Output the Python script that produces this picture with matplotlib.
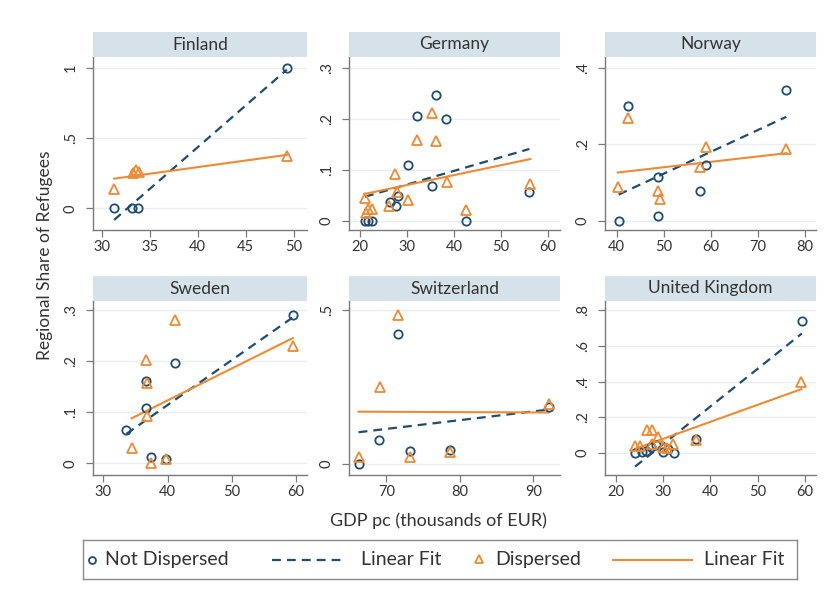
import matplotlib
matplotlib.use("Agg")
import matplotlib.pyplot as plt
import numpy as np

plt.rcParams['font.family'] = ['Lato', 'DejaVu Sans']

# --- data (GDP pc in thousands of EUR, share of refugees) ---
finland_nd_x = [31.3, 33.2, 33.8, 49.3]
finland_nd_y = [0.0, 0.0, 0.0, 1.0]
finland_d_x = [31.3, 33.3, 33.6, 33.9, 49.3]
finland_d_y = [0.14, 0.25, 0.27, 0.26, 0.37]

germany_nd_x = [21.1, 21.8, 22.5, 26.4, 27.6, 28.0, 30.3, 32.2, 35.4, 36.2, 38.4, 42.5, 56.0]
germany_nd_y = [0.0, 0.0, 0.0, 0.037, 0.029, 0.049, 0.109, 0.205, 0.068, 0.246, 0.200, 0.0, 0.057]
germany_d_x = [21.0, 21.4, 21.8, 22.5, 26.2, 27.4, 27.9, 30.3, 32.2, 35.4, 36.2, 38.6, 42.5, 56.2]
germany_d_y = [0.044, 0.016, 0.024, 0.024, 0.030, 0.091, 0.057, 0.040, 0.158, 0.211, 0.156, 0.076, 0.021, 0.072]

norway_nd_x = [40.4, 42.3, 48.8, 48.7, 57.6, 59.0, 76.0]
norway_nd_y = [0.0, 0.301, 0.115, 0.012, 0.078, 0.147, 0.343]
norway_d_x = [40.2, 42.3, 48.7, 49.1, 57.6, 59.0, 76.0]
norway_d_y = [0.089, 0.268, 0.078, 0.058, 0.141, 0.194, 0.187]

sweden_nd_x = [33.6, 36.7, 36.7, 37.5, 39.8, 41.1, 59.5]
sweden_nd_y = [0.065, 0.108, 0.162, 0.013, 0.008, 0.196, 0.290]
sweden_d_x = [34.4, 36.6, 36.8, 36.8, 37.5, 39.8, 41.1, 59.5]
sweden_d_y = [0.029, 0.203, 0.158, 0.092, 0.001, 0.008, 0.280, 0.230]

swiss_nd_x = [66.2, 69.0, 71.6, 73.2, 78.7, 92.1]
swiss_nd_y = [0.0, 0.078, 0.422, 0.043, 0.045, 0.184]
swiss_d_x = [66.2, 69.1, 71.6, 73.2, 78.7, 92.1]
swiss_d_y = [0.024, 0.249, 0.484, 0.024, 0.038, 0.195]

uk_nd_x = [24.1, 25.5, 26.5, 27.5, 28.5, 30.0, 31.0, 32.3, 37.0, 59.3]
uk_nd_y = [0.0, 0.005, 0.010, 0.030, 0.040, 0.005, 0.020, 0.0, 0.079, 0.740]
uk_d_x = [24.1, 25.1, 26.7, 27.6, 27.6, 29.0, 30.1, 30.9, 32.2, 37.0, 59.2]
uk_d_y = [0.038, 0.038, 0.126, 0.126, 0.047, 0.085, 0.032, 0.028, 0.050, 0.070, 0.400]

countries = ['Finland', 'Germany', 'Norway', 'Sweden', 'Switzerland', 'United Kingdom']
x_ticks = [[30, 35, 40, 45, 50], [20, 30, 40, 50, 60], [40, 50, 60, 70, 80],
           [30, 40, 50, 60], [70, 80, 90], [20, 30, 40, 50, 60]]
y_ticks = [[0, 0.5, 1], [0, 0.1, 0.2, 0.3], [0, 0.2, 0.4],
           [0, 0.1, 0.2, 0.3], [0, 0.5], [0, 0.2, 0.4, 0.6, 0.8]]

NAVY = '#1f4d72'
ORANGE = '#ef8a34'
STRIP = '#d6e2ea'
AXCOL = '#7a7a7a'
TXT = '#333333'

panels = [
    (finland_nd_x, finland_nd_y, finland_d_x, finland_d_y, (29.1, 51.4), (-0.155, 1.078)),
    (germany_nd_x, germany_nd_y, germany_d_x, germany_d_y, (17.7, 62.5), (-0.018, 0.321)),
    (norway_nd_x, norway_nd_y, norway_d_x, norway_d_y, (37.5, 82.3), (-0.024, 0.429)),
    (sweden_nd_x, sweden_nd_y, sweden_d_x, sweden_d_y, (28.4, 61.7), (-0.023, 0.318)),
    (swiss_nd_x, swiss_nd_y, swiss_d_x, swiss_d_y, (64.9, 93.65), (-0.035, 0.528)),
    (uk_nd_x, uk_nd_y, uk_d_x, uk_d_y, (17.75, 62.3), (-0.126, 0.853)),
]

W, H = 832, 591
# pixel boxes (left, right) and (top, bottom) of each plot region
col_px = [(93, 307), (349, 560), (605, 816)]
row_px = [(57, 230), (301, 475)]
strip_h = 25


def stata_fmt(v):
    if abs(v) < 1e-9:
        return '0'
    if abs(v - round(v)) < 1e-9:
        return '%d' % round(v)
    return ('%g' % v).lstrip('0')


def fit_line(x, y):
    x = np.asarray(x)
    slope, icpt = np.polyfit(x, y, 1)
    xs = np.array([x.min(), x.max()])
    return xs, icpt + slope * xs


fig = plt.figure(figsize=(W / 100, H / 100), dpi=100)

for i, (nx, ny, dx, dy, xl, yl) in enumerate(panels):
    c0, c1 = col_px[i % 3]
    r0, r1 = row_px[i // 3]
    ax = fig.add_axes([c0 / W, 1 - r1 / H, (c1 - c0) / W, (r1 - r0) / H])
    sax = fig.add_axes([c0 / W, 1 - r0 / H, (c1 - c0) / W, strip_h / H])
    sax.set_facecolor(STRIP)
    sax.set_xticks([])
    sax.set_yticks([])
    for s in sax.spines.values():
        s.set_visible(False)
    sax.text(0.5, 0.5, countries[i], ha='center', va='center', fontsize=12.5,
             color=TXT, transform=sax.transAxes)

    for t in y_ticks[i]:
        ax.axhline(t, color='#eaeef1', lw=1, zorder=0)

    fx, fy = fit_line(nx, ny)
    ax.plot(fx, fy, color=NAVY, lw=1.6, dashes=(4, 2.7), zorder=2)
    fx, fy = fit_line(dx, dy)
    ax.plot(fx, fy, color=ORANGE, lw=1.5, zorder=2)
    ax.plot(nx, ny, 'o', mfc='none', mec=NAVY, mew=1.3, ms=6, zorder=3)
    ax.plot(dx, dy, '^', mfc='none', mec=ORANGE, mew=1.3, ms=6.5, zorder=3)

    ax.set_xlim(*xl)
    ax.set_ylim(*yl)
    ax.set_xticks(x_ticks[i])
    ax.set_yticks(y_ticks[i])
    ax.set_yticklabels([stata_fmt(v) for v in y_ticks[i]])
    for s in ['top', 'right']:
        ax.spines[s].set_visible(False)
    for s in ['left', 'bottom']:
        ax.spines[s].set_color(AXCOL)
        ax.spines[s].set_linewidth(1.0)
    ax.tick_params(axis='both', direction='out', length=5, width=0.9, color=AXCOL,
                   labelsize=10.5, labelcolor=TXT)
    ax.tick_params(axis='x', pad=2)
    ax.tick_params(axis='y', pad=6, labelrotation=90)
    for lab in ax.get_yticklabels():
        lab.set_va('center')

fig.text(45 / W, 1 - 255 / H, 'Regional Share of Refugees', rotation=90,
         ha='center', va='center', fontsize=12.5, color=TXT)
fig.text(438 / W, 1 - 521 / H, 'GDP pc (thousands of EUR)',
         ha='center', va='center', fontsize=13, color=TXT)

# legend box drawn in pixel coordinates
lx0, lx1, ly0, ly1 = 83, 797, 540, 579
lax = fig.add_axes([lx0 / W, 1 - ly1 / H, (lx1 - lx0) / W, (ly1 - ly0) / H])
lax.set_xlim(lx0, lx1)
lax.set_ylim(ly1, ly0)
lax.set_xticks([])
lax.set_yticks([])
for s in lax.spines.values():
    s.set_color('#8a8a8a')
    s.set_linewidth(1.0)
ym = (ly0 + ly1) / 2
lax.plot([92], [ym], 'o', mfc='none', mec=NAVY, mew=1.3, ms=5)
lax.text(105, ym, 'Not Dispersed', va='center', fontsize=14, color=TXT)
lax.plot([272, 343], [ym, ym], color=NAVY, lw=1.6, dashes=(4, 2.7))
lax.text(361, ym, 'Linear Fit', va='center', fontsize=14, color=TXT)
lax.plot([479], [ym - 1], '^', mfc='none', mec=ORANGE, mew=1.3, ms=5.5)
lax.text(495, ym, 'Dispersed', va='center', fontsize=14, color=TXT)
lax.plot([613, 692], [ym, ym], color=ORANGE, lw=1.5)
lax.text(704, ym, 'Linear Fit', va='center', fontsize=14, color=TXT)

fig.savefig('out.png', dpi=100, facecolor='white')
